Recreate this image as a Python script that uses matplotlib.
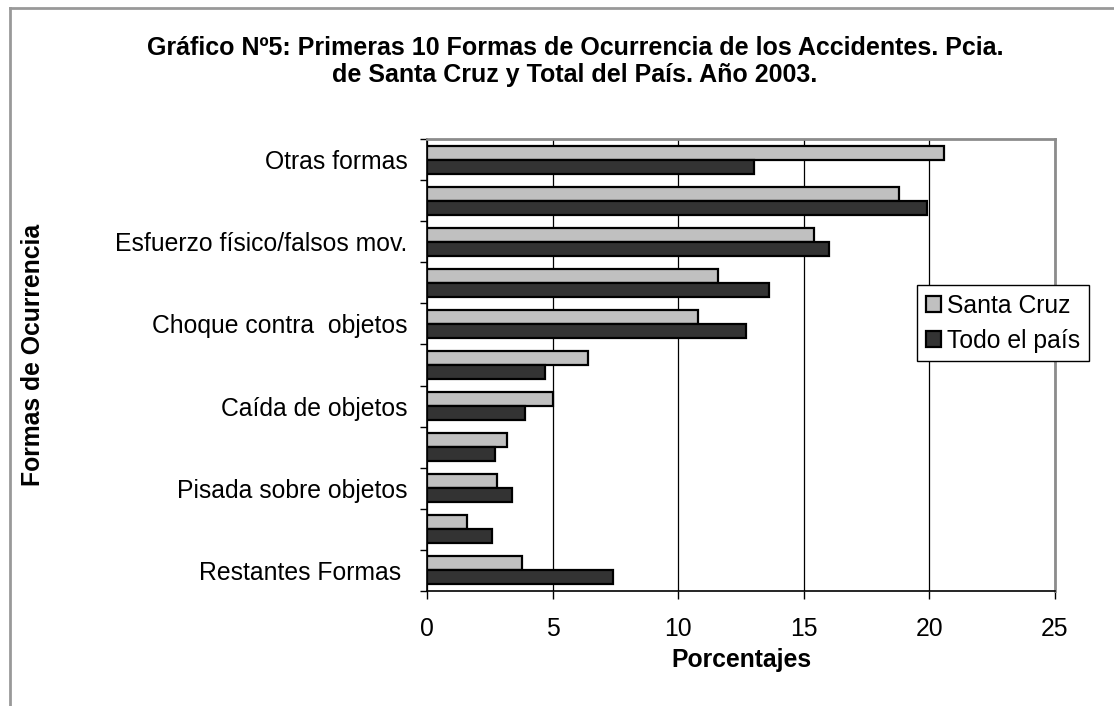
import numpy as np
import matplotlib
matplotlib.use("Agg")
import matplotlib.pyplot as plt
from matplotlib.lines import Line2D

plt.rcParams["font.family"] = ["Liberation Sans", "DejaVu Sans"]

# data (top to bottom)
categorias = [
    "Otras formas",
    "",
    "Esfuerzo físico/falsos mov.",
    "",
    "Choque contra  objetos",
    "",
    "Caída de objetos",
    "",
    "Pisada sobre objetos",
    "",
    "Restantes Formas ",
]
santa_cruz = [20.6, 18.8, 15.4, 11.6, 10.8, 6.4, 5.0, 3.2, 2.8, 1.6, 3.8]
todo_pais = [13.0, 19.9, 16.0, 13.6, 12.7, 4.7, 3.9, 2.7, 3.4, 2.6, 7.4]
x_ticks = [0, 5, 10, 15, 20, 25]

FS = 17.8

fig = plt.figure(figsize=(11.14, 7.06), dpi=100)
ax = fig.add_axes([0.3833, 0.1629, 0.5637, 0.6402])

pos = np.arange(len(categorias))
h = 0.34
ax.barh(pos - h / 2, santa_cruz, height=h, color="#c0c0c0",
        edgecolor="black", linewidth=1.6, label="Santa Cruz", zorder=3)
ax.barh(pos + h / 2, todo_pais, height=h, color="#333333",
        edgecolor="black", linewidth=1.6, label="Todo el país", zorder=3)

ax.set_xlim(0, 25)
ax.set_ylim(len(categorias) - 0.5, -0.5)
ax.set_xticks(x_ticks)
ax.set_xticklabels([str(t) for t in x_ticks], fontsize=FS)
ax.tick_params(axis="x", length=6, width=1, pad=13)
ax.xaxis.grid(True, color="black", linewidth=0.9, zorder=0)

# ticks on category borders, labels at category centers
ax.set_yticks(np.arange(-0.5, len(categorias), 1.0))
ax.set_yticklabels([])
ax.tick_params(axis="y", which="major", length=5, width=1)
ax.set_yticks(pos, minor=True)
ax.set_yticklabels(categorias, minor=True, fontsize=FS)
ax.tick_params(axis="y", which="minor", length=0, pad=14)

for s in ["top", "right"]:
    ax.spines[s].set_color("#8c8c8c")
    ax.spines[s].set_linewidth(2)
for s in ["left", "bottom"]:
    ax.spines[s].set_color("black")
    ax.spines[s].set_linewidth(1.2)

ax.set_xlabel("Porcentajes", fontsize=FS, fontweight="bold", labelpad=5)
fig.text(0.030, 0.497, "Formas de Ocurrencia", rotation=90, fontsize=FS,
         fontweight="bold", ha="center", va="center")

fig.text(0.516, 0.913, "Gráfico Nº5: Primeras 10 Formas de Ocurrencia de los Accidentes. Pcia.\n"
         "de Santa Cruz y Total del País. Año 2003.",
         fontsize=18, fontweight="bold", ha="center", va="center",
         multialignment="center", linespacing=1.2)

leg = ax.legend(loc="upper left", bbox_to_anchor=(917 / 1114, (706 - 285) / 706),
                bbox_transform=fig.transFigure, fontsize=FS, frameon=True,
                fancybox=False, framealpha=1, edgecolor="black",
                handlelength=0.62, handleheight=0.62, handletextpad=0.25,
                borderpad=0.35, labelspacing=0.45, borderaxespad=0)
leg.get_frame().set_linewidth(1)

# outer chart frame (gray, left and top)
fig.add_artist(Line2D([10 / 1114, 10 / 1114], [0, (706 - 8) / 706],
                      transform=fig.transFigure, color="#999999", linewidth=2))
fig.add_artist(Line2D([10 / 1114, 1], [(706 - 8) / 706, (706 - 8) / 706],
                      transform=fig.transFigure, color="#999999", linewidth=2))

fig.savefig("out.png", dpi=100)
